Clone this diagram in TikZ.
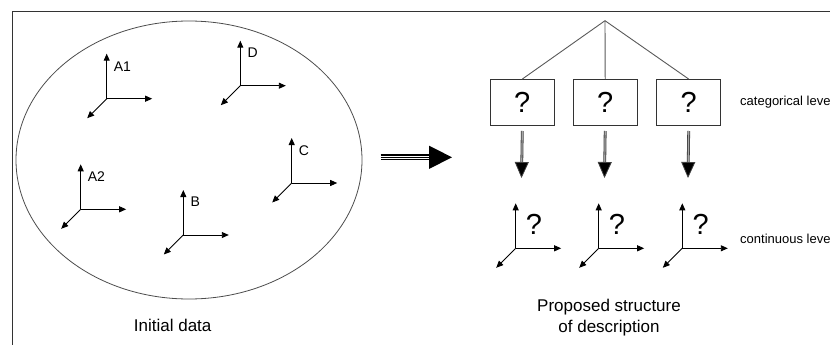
\documentclass[tikz,border=0pt]{standalone}
\usepackage{fontspec}
\setmainfont{Liberation Sans}
\usetikzlibrary{arrows.meta,shapes.geometric}
\tikzset{
  axisline/.style={line width=0.9pt, draw=black, -{Triangle[length=7pt,width=6pt]}},
  axes/.pic={
    \coordinate (-o) at (0,0);
    \draw[axisline] (0,0) -- (0,-45);
    \draw[axisline] (0,0) -- (45.5,0);
    \draw[axisline] (0,0) -- (-19.5,19.5);
  },
  lbl/.style={anchor=west, inner sep=0pt, font=\fontsize{14}{16}\selectfont},
  qmark/.style={inner sep=0pt, font=\fontsize{29}{30}\selectfont},
  qbox/.style={draw=black!80, line width=0.9pt, minimum width=64pt, minimum height=46pt, inner sep=0pt, font=\fontsize{29}{30}\selectfont},
  treeline/.style={draw=black!65, line width=0.9pt},
  downarrow/.style={draw=black!75, line width=0.8pt, double=black!35, double distance=1.2pt, -{Triangle[length=16pt,width=14pt,fill=black]}},
  lvllbl/.style={anchor=west, inner sep=0pt, font=\fontsize{13}{15}\selectfont},
  caption/.style={inner sep=0pt, font=\fontsize{17}{21}\selectfont, align=center},
}
\begin{document}
\begin{tikzpicture}[x=1pt,y=-1pt]
\useasboundingbox (0,0) rectangle (830,345);
\clip (0,0) rectangle (830,345);
% frame
\draw[draw=black!80, line width=1pt] (12.5,360) -- (12.5,11.5) -- (850,11.5);
% initial data ellipse
\node[draw=black!70, line width=0.8pt, ellipse, minimum width=346pt, minimum height=278pt, inner sep=0pt] (data) at (189,160) {};
% axes on the left
\pic (A1) at (106.7,98.7) {axes};
\node[lbl] (lA1) at (113.7,66.7) {A1};
\pic (D) at (240.3,85.7) {axes};
\node[lbl] (lD) at (247.5,53) {D};
\pic (C) at (291.7,183) {axes};
\node[lbl] (lC) at (298.7,151) {C};
\pic (A2) at (80.7,209.3) {axes};
\node[lbl] (lA2) at (87.7,176.7) {A2};
\pic (B) at (183.3,235) {axes};
\node[lbl] (lB) at (190.5,202) {B};
\node[caption] (init) at (172.7,325) {Initial data};
% big arrow
\coordinate (bs) at (380.7,157.3);
\coordinate (be) at (452,157.3);
\draw[line width=1.2pt, double=white, double distance=3.6pt, -{Triangle[length=23pt,width=23pt,fill=black]}] (bs) -- (be);
\draw[line width=1.2pt, shorten >=20pt] (bs) -- (be);
% tree
\coordinate (apex) at (605,20.7);
\node[qbox] (c1) at (522.3,102.5) {?};
\node[qbox] (c2) at (605.2,102.5) {?};
\node[qbox] (c3) at (688.7,102.5) {?};
\draw[treeline] (apex) -- (c1.north);
\draw[treeline] (apex) -- (c2.north);
\draw[treeline] (apex) -- (c3.north);
% continuous level axes
\pic (k1) at (515.7,248.3) {axes};
\pic (k2) at (598.7,248.3) {axes};
\pic (k3) at (682.3,248.3) {axes};
\node[qmark] (q1) at (534,224) {?};
\node[qmark] (q2) at (617,224) {?};
\node[qmark] (q3) at (700.6,224) {?};
% down arrows
\coordinate (d1) at (521.5,178);
\coordinate (d2) at (604.5,178);
\coordinate (d3) at (688,178);
\draw[downarrow] (c1.south |- 0,131) -- (d1);
\draw[downarrow] (c2.south |- 0,131) -- (d2);
\draw[downarrow] (c3.south |- 0,131) -- (d3);
% level labels
\node[lvllbl] (cat) at (740,101.7) {categorical leve};
\node[lvllbl] (cont) at (740,239) {continuous leve};
\node[caption] (prop) at (609,317.8) {Proposed structure\\of description};
\end{tikzpicture}
\end{document}
